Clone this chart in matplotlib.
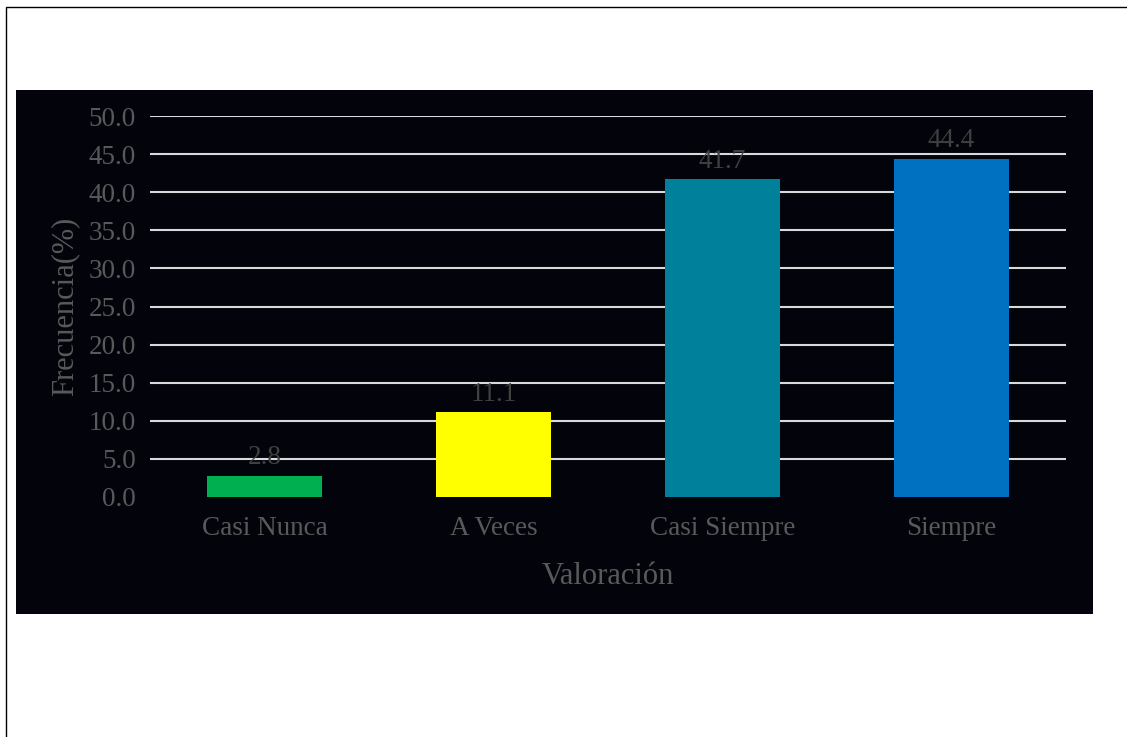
import numpy as np
import matplotlib.pyplot as plt
from matplotlib.patches import Rectangle

categories = ["Casi Nunca", "A Veces", "Casi Siempre", "Siempre"]
values = [2.8, 11.1, 41.7, 44.4]
colors = ["#00b050", "#ffff00", "#00809a", "#0070c0"]
yticks = np.arange(0, 55, 5)

W, H = 1127, 737
fig = plt.figure(figsize=(W / 100, H / 100), dpi=100)
plt.rcParams['font.family'] = ['Liberation Serif', 'DejaVu Serif']

# outer border (runs off the right and bottom edge) and dark panel
fig.patches.append(Rectangle((6 / W, -0.05), 1.0, (H - 7) / H + 0.05, transform=fig.transFigure,
                             fill=False, edgecolor="black", linewidth=1.0, zorder=-2))
fig.patches.append(Rectangle((16 / W, (H - 614) / H), (1093 - 16) / W, (614 - 90) / H,
                             transform=fig.transFigure, facecolor="#03030c", edgecolor="none",
                             zorder=-1))

ax = fig.add_axes([150 / W, (H - 497) / H, (1066 - 150) / W, (497 - 116) / H])
ax.set_facecolor("none")

x = np.arange(len(categories))
ax.bar(x, values, width=0.5, color=colors, zorder=3)
for xi, v in zip(x, values):
    ax.annotate(f"{v:.1f}", (xi, v), xytext=(0, 4), textcoords="offset points",
                ha="center", va="bottom", fontsize=19.5, color="#404040", zorder=4)

ax.set_xlim(-0.5, 3.5)
ax.set_ylim(0, 50)
ax.set_yticks(yticks)
ax.set_yticklabels([f"{t:.1f}" for t in yticks])
ax.set_xticks(x)
ax.set_xticklabels(categories)
ax.yaxis.grid(True, color="#d9d9d9", linewidth=1.5, zorder=0)
ax.yaxis.get_gridlines()[0].set_visible(False)
ax.tick_params(axis="both", length=0, labelsize=19.5, labelcolor="#595959")
ax.tick_params(axis="y", pad=10)
ax.tick_params(axis="x", pad=14)
for s in ax.spines.values():
    s.set_visible(False)

ax.set_xlabel("Valoración", fontsize=22, color="#595959", labelpad=15)
ax.set_ylabel("Frecuencia(%)", fontsize=22, color="#595959", labelpad=7)

fig.savefig("out.png", dpi=100)
